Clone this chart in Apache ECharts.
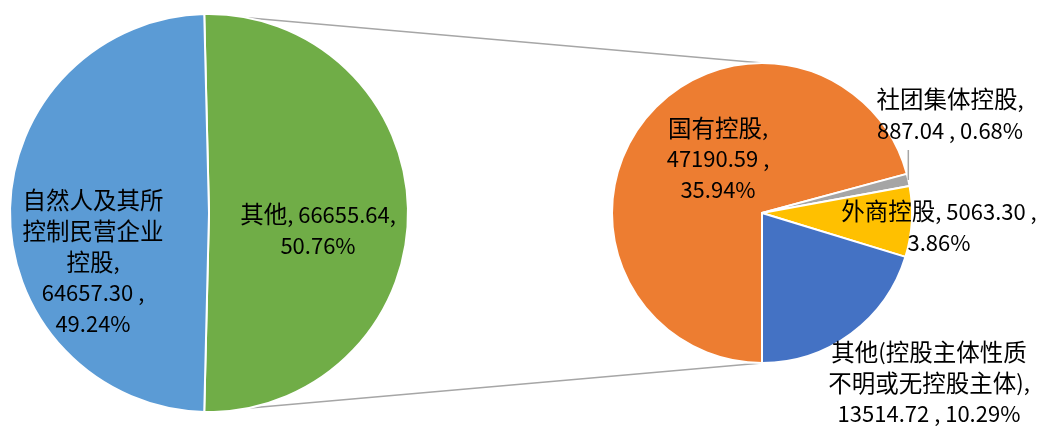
<!DOCTYPE html>
<html><head><meta charset="utf-8">
<script src="https://cdn.jsdelivr.net/npm/echarts@6/dist/echarts.min.js"></script>
<style>html,body{margin:0;padding:0;background:#fff}#c{width:1043px;height:426px}</style>
</head><body><div id="c"></div>
<script>
// ---- data ----
const leftCategories = ['其他', '自然人及其所\n控制民营企业\n控股'];
const leftValues = [66655.64, 64657.30];
const rightCategories = ['国有控股', '社团集体控股', '外商控股', '其他(控股主体性质\n不明或无控股主体)'];
const rightValues = [47190.59, 887.04, 5063.30, 13514.72];

// ---- styles / layout ----
const leftColors = ['#70AD47', '#5B9BD5'];
const rightColors = ['#ED7D31', '#A5A5A5', '#FFC000', '#4472C4'];
const leftSep = [[', ', ',\n'], [',\n', ' ,\n']];
const rightSep = [[',\n', ' ,\n'], [',\n', ' , '], [', ', ' ,\n'], [',\n', ' , ']];
const leftLabelPos = [[318, 230], [93, 262]];
const rightLabelPos = [[718, 159], [950, 115], [939, 227], [929, 383]];
const L = {cx: 209, cy: 213, r: 199};
const R = {cx: 762, cy: 213, r: 150};
const FONT = '"Noto Sans CJK SC", "Noto Sans", sans-serif';

const sum = a => a.reduce((s, v) => s + v, 0);
const grand = sum(leftValues);
const rightTotal = sum(rightValues);
const otherShare = leftValues[0] / grand;
const leftStart = 90 + (otherShare * 360 - 180) / 2;
const rightStart = 270;
const rad = d => d * Math.PI / 180;

function fmt(sep, name, v) {
  const s = name + sep[0] + v.toFixed(2) + sep[1] + (v / grand * 100).toFixed(2) + '%';
  return s.split('\n').map(line =>
    line.split(/([\u4e00-\u9fff]+)/).filter(t => t.length).map(t =>
      /[\u4e00-\u9fff]/.test(t) ? '{c|' + t + '}' : '{d|' + t + '}').join('')
  ).join('\n');
}

const topA = rad(leftStart), botA = rad(leftStart - otherShare * 360);
const grayMid = rad(rightStart - (rightValues[0] + rightValues[1] / 2) / rightTotal * 360);
const gx = R.cx + R.r * Math.cos(grayMid), gy = R.cy - R.r * Math.sin(grayMid);

const lineStyle = {stroke: '#A6A6A6', lineWidth: 1.5};
const labelStyle = {
  show: true, position: 'inside', color: '#000', fontSize: 22, lineHeight: 31, fontFamily: FONT,
  rich: {
    c: {fontSize: 23.5, lineHeight: 31, color: '#000', fontFamily: FONT},
    d: {fontSize: 22, lineHeight: 31, color: '#000', fontFamily: FONT}
  }
};

const chart = echarts.init(document.getElementById('c'), null, {renderer: 'canvas'});
chart.setOption({
  backgroundColor: '#fff',
  animation: false,
  graphic: [
    {type: 'line', z: -10, shape: {x1: L.cx + L.r * Math.cos(topA), y1: L.cy - L.r * Math.sin(topA), x2: R.cx, y2: R.cy - R.r}, style: lineStyle},
    {type: 'line', z: -10, shape: {x1: L.cx + L.r * Math.cos(botA), y1: L.cy - L.r * Math.sin(botA), x2: R.cx, y2: R.cy + R.r}, style: lineStyle},
    {type: 'line', z: 100, shape: {x1: gx, y1: gy, x2: gx, y2: 150}, style: lineStyle}
  ],
  series: [
    {
      type: 'pie', center: [L.cx, L.cy], radius: [0, L.r], startAngle: leftStart, clockwise: true,
      itemStyle: {borderColor: '#fff', borderWidth: 2},
      label: Object.assign({}, labelStyle, {formatter: p => fmt(leftSep[p.dataIndex], p.name, p.value)}),
      labelLine: {show: false},
      labelLayout: p => ({x: leftLabelPos[p.dataIndex][0], y: leftLabelPos[p.dataIndex][1], align: 'center', verticalAlign: 'middle'}),
      emphasis: {disabled: true},
      data: leftValues.map((v, i) => ({name: leftCategories[i], value: v, itemStyle: {color: leftColors[i]}}))
    },
    {
      type: 'pie', center: [R.cx, R.cy], radius: [0, R.r], startAngle: rightStart, clockwise: true,
      itemStyle: {borderColor: '#fff', borderWidth: 2},
      label: Object.assign({}, labelStyle, {formatter: p => fmt(rightSep[p.dataIndex], p.name, p.value)}),
      labelLine: {show: false},
      labelLayout: p => ({x: rightLabelPos[p.dataIndex][0], y: rightLabelPos[p.dataIndex][1], align: 'center', verticalAlign: 'middle'}),
      emphasis: {disabled: true},
      data: rightValues.map((v, i) => ({name: rightCategories[i], value: v, itemStyle: {color: rightColors[i]}}))
    }
  ]
});
</script></body></html>
